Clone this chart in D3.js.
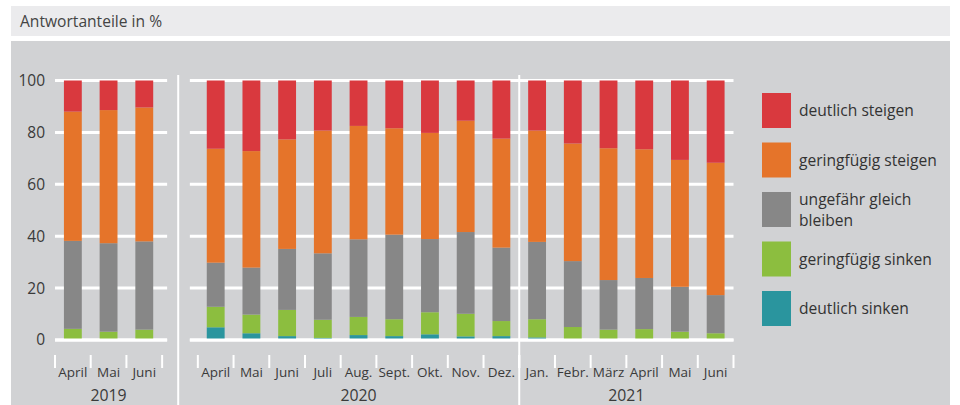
<!DOCTYPE html>
<html>
<head>
<meta charset="utf-8">
<script src="https://cdn.jsdelivr.net/npm/d3@7"></script>
<style>
  body { margin: 0; background: #fff; font-family: "Open Sans", sans-serif; }
</style>
</head>
<body>
<div id="chart"></div>
<script>
// months and years along the x axis
const months = ["April", "Mai", "Juni",
  "April", "Mai", "Juni", "Juli", "Aug.", "Sept.", "Okt.", "Nov.", "Dez.",
  "Jan.", "Febr.", "März", "April", "Mai", "Juni"];
const years = ["2019", "2019", "2019",
  "2020", "2020", "2020", "2020", "2020", "2020", "2020", "2020", "2020",
  "2021", "2021", "2021", "2021", "2021", "2021"];

// answer shares in %, bottom to top
const deutlichSinken =     [0, 0, 0, 4.9, 2.6, 1.5, 0.8, 1.9, 1.5, 2.2, 1.4, 1.5, 1.0, 0, 0, 0, 0, 0];
const geringfuegigSinken = [4.3, 3.2, 4.0, 7.9, 7.2, 10.1, 7.0, 7.0, 6.5, 8.5, 8.7, 5.8, 7.0, 5.0, 4.0, 4.2, 3.2, 2.6];
const gleichBleiben =      [33.9, 34.1, 34.0, 17.0, 18.1, 23.5, 25.6, 29.9, 32.6, 28.2, 31.5, 28.3, 29.8, 25.4, 19.1, 19.7, 17.3, 14.7];
const geringfuegigSteigen = [49.8, 51.3, 51.6, 43.9, 44.9, 42.2, 47.3, 43.7, 41.0, 40.9, 42.9, 42.0, 42.9, 45.3, 50.8, 49.6, 48.9, 51.0];
const deutlichSteigen =    [12.0, 11.4, 10.4, 26.3, 27.2, 22.7, 19.3, 17.5, 18.4, 20.2, 15.5, 22.4, 19.3, 24.3, 26.1, 26.5, 30.6, 31.7];

const seriesNames = ["deutlich sinken", "geringfügig sinken", "ungefähr gleich bleiben",
  "geringfügig steigen", "deutlich steigen"];
const seriesColors = ["#2a959e", "#8cbe3f", "#878787", "#e5742a", "#d9393e"];
const yTicks = [0, 20, 40, 60, 80, 100];

const W = 960, H = 405;
const svg = d3.select("#chart").append("svg")
  .attr("width", W).attr("height", H)
  .style("display", "block");

// header band and grey panel
svg.append("rect").attr("x", 11).attr("y", 6).attr("width", 939).attr("height", 30).attr("fill", "#ebebed");
svg.append("text").attr("x", 20).attr("y", 26.5)
  .attr("font-size", 15.6).attr("fill", "#444")
  .text("Antwortanteile in %");
svg.append("rect").attr("x", 11).attr("y", 41).attr("width", 939).attr("height", H - 41).attr("fill", "#d1d2d4");

// table for the stack
const keys = months.map((m, i) => years[i] + " " + m);
const rows = keys.map((k, i) => ({
  key: k,
  "deutlich sinken": deutlichSinken[i],
  "geringfügig sinken": geringfuegigSinken[i],
  "ungefähr gleich bleiben": gleichBleiben[i],
  "geringfügig steigen": geringfuegigSteigen[i],
  "deutlich steigen": deutlichSteigen[i]
}));

// one empty slot between 2019 and 2020
const domain = keys.slice(0, 3).concat(["gap"], keys.slice(3));
const x = d3.scaleBand().domain(domain).range([55, 733.5])
  .paddingInner(0.5).paddingOuter(0.25);
const step = x.step();
const slot = (k) => x(k) - step * 0.25; // left edge of the slot

const y = d3.scaleLinear().domain([0, 100]).range([340, 80.5]);

// gridlines
const grid = svg.append("g");
yTicks.forEach((t) => {
  grid.append("line").attr("x1", slot(keys[0])).attr("x2", slot("gap") + 5)
    .attr("y1", y(t)).attr("y2", y(t));
  grid.append("line").attr("x1", slot(keys[3]) - 8).attr("x2", slot(keys[17]) + step)
    .attr("y1", y(t)).attr("y2", y(t));
});
grid.selectAll("line").attr("stroke", "#fff").attr("stroke-width", 3);

// y labels
svg.append("g").selectAll("text").data(yTicks).join("text")
  .attr("x", 45).attr("y", (d) => y(d)).attr("dy", "0.35em")
  .attr("text-anchor", "end").attr("font-size", 15.5).attr("fill", "#3a3a3a")
  .text((d) => d);

// stacked bars
const stack = d3.stack().keys(seriesNames)(rows);
svg.append("g").selectAll("g").data(stack).join("g")
  .attr("fill", (d, i) => seriesColors[i])
  .selectAll("rect").data((d) => d).join("rect")
  .attr("x", (d) => x(d.data.key))
  .attr("width", x.bandwidth())
  .attr("y", (d) => y(d[1]))
  .attr("height", (d) => Math.max(0, y(d[0]) - y(d[1])));

// zero line above the bars
svg.append("line").attr("x1", slot(keys[0])).attr("x2", slot("gap") + 5)
  .attr("y1", y(0)).attr("y2", y(0)).attr("stroke", "#fff").attr("stroke-width", 3);
svg.append("line").attr("x1", slot(keys[3]) - 8).attr("x2", slot(keys[17]) + step)
  .attr("y1", y(0)).attr("y2", y(0)).attr("stroke", "#fff").attr("stroke-width", 3);

// year separators
[slot("gap") + step * 0.45, slot(keys[12])].forEach((sx) => {
  svg.append("line").attr("x1", sx).attr("x2", sx).attr("y1", 75).attr("y2", H)
    .attr("stroke", "#fff").attr("stroke-width", 2);
});

// month ticks at slot edges
const tickX = [];
keys.forEach((k) => { tickX.push(slot(k)); });
tickX.push(slot(keys[2]) + step, slot(keys[11]) + step, slot(keys[17]) + step);
svg.append("g").selectAll("line").data(tickX).join("line")
  .attr("x1", (d) => d).attr("x2", (d) => d).attr("y1", 355).attr("y2", 368)
  .attr("stroke", "#fff").attr("stroke-width", 2);

// month labels
svg.append("g").selectAll("text").data(keys).join("text")
  .attr("x", (d) => x(d) + x.bandwidth() / 2).attr("y", 377)
  .attr("text-anchor", "middle").attr("font-size", 13.5).attr("fill", "#3a3a3a")
  .text((d, i) => months[i]);

// year labels
const yearList = ["2019", "2020", "2021"];
svg.append("g").selectAll("text").data(yearList).join("text")
  .attr("x", (yr) => {
    const ks = keys.filter((k, i) => years[i] === yr);
    return (slot(ks[0]) + slot(ks[ks.length - 1]) + step) / 2;
  })
  .attr("y", 400.5).attr("text-anchor", "middle").attr("font-size", 15.8).attr("fill", "#3a3a3a")
  .text((d) => d);

// legend, top item first
const legendItems = seriesNames.map((n, i) => ({ name: n, color: seriesColors[i] })).reverse();
const legend = svg.append("g").selectAll("g").data(legendItems).join("g")
  .attr("transform", (d, i) => `translate(762, ${93 + i * 49.5})`);
legend.append("rect").attr("width", 29).attr("height", 35).attr("fill", (d) => d.color);
legend.append("text").attr("x", 37).attr("font-size", 15.6).attr("fill", "#333")
  .each(function (d) {
    const lines = d.name === "ungefähr gleich bleiben" ? ["ungefähr gleich", "bleiben"] : [d.name];
    const t = d3.select(this);
    lines.forEach((l, j) => {
      t.append("tspan").attr("x", 37)
        .attr("y", 18 + (j - (lines.length - 1) / 2) * 21.5).attr("dy", "0.35em").text(l);
    });
  });
</script>
</body>
</html>
